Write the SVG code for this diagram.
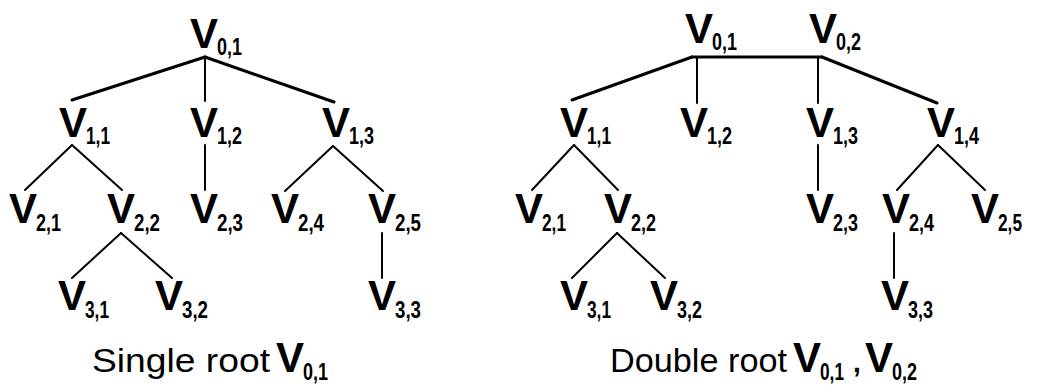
<svg xmlns="http://www.w3.org/2000/svg" width="1059" height="387" viewBox="0 0 1059 387">
<style>
.v{font-family:"Liberation Sans",Arial,sans-serif;font-weight:bold;font-size:42px;fill:#000}
.s{font-family:"Liberation Sans",Arial,sans-serif;font-weight:bold;font-size:24px;fill:#000}
.c{font-family:"Liberation Sans",Arial,sans-serif;font-size:34px;fill:#000}
.k{font-family:"Liberation Sans",Arial,sans-serif;font-weight:bold;font-size:28px;fill:#000}
.thick{stroke:#000;stroke-width:3;fill:none;stroke-linecap:round}
.thin{stroke:#000;stroke-width:2;fill:none;stroke-linecap:round}
</style>
<rect width="1059" height="387" fill="#fff"/>
<g id="connectors">
  <!-- left tree -->
  <line class="thick" x1="205" y1="57" x2="72" y2="100"/>
  <line class="thin" x1="205" y1="57" x2="205" y2="101"/>
  <line class="thick" x1="205" y1="57" x2="334" y2="102"/>
  <line class="thin" x1="72" y1="145" x2="25" y2="190"/>
  <line class="thin" x1="72" y1="145" x2="122" y2="190"/>
  <line class="thin" x1="205" y1="145" x2="205" y2="190"/>
  <line class="thin" x1="333" y1="146" x2="285" y2="191"/>
  <line class="thin" x1="333" y1="146" x2="383" y2="191"/>
  <line class="thin" x1="121" y1="233" x2="72" y2="278"/>
  <line class="thin" x1="121" y1="233" x2="172" y2="278"/>
  <line class="thin" x1="382" y1="233" x2="382" y2="278"/>
  <!-- right tree -->
  <line class="thick" x1="692" y1="57" x2="822" y2="57"/>
  <line class="thick" x1="692" y1="57" x2="572" y2="100"/>
  <line class="thin" x1="697" y1="57" x2="697" y2="103"/>
  <line class="thin" x1="818" y1="57" x2="818" y2="103"/>
  <line class="thick" x1="822" y1="57" x2="937" y2="103"/>
  <line class="thin" x1="574" y1="145" x2="532" y2="190"/>
  <line class="thin" x1="574" y1="145" x2="618" y2="190"/>
  <line class="thin" x1="818" y1="145" x2="818" y2="190"/>
  <line class="thin" x1="938" y1="145" x2="897" y2="190"/>
  <line class="thin" x1="938" y1="145" x2="985" y2="190"/>
  <line class="thin" x1="617" y1="233" x2="572" y2="278"/>
  <line class="thin" x1="617" y1="233" x2="665" y2="278"/>
  <line class="thin" x1="894" y1="233" x2="894" y2="278"/>
</g>
<!-- left tree nodes -->
<g id="L-V01"><text class="v" x="190" y="48">V</text><text class="s" x="217" y="55" textLength="25" lengthAdjust="spacingAndGlyphs">0,1</text></g>
<g id="L-V11"><text class="v" x="59" y="137">V</text><text class="s" x="86" y="144" textLength="24" lengthAdjust="spacingAndGlyphs">1,1</text></g>
<g id="L-V12"><text class="v" x="190" y="137">V</text><text class="s" x="217" y="144" textLength="25" lengthAdjust="spacingAndGlyphs">1,2</text></g>
<g id="L-V13"><text class="v" x="322" y="137">V</text><text class="s" x="349" y="144" textLength="25" lengthAdjust="spacingAndGlyphs">1,3</text></g>
<g id="L-V21"><text class="v" x="9" y="223">V</text><text class="s" x="36" y="231" textLength="25" lengthAdjust="spacingAndGlyphs">2,1</text></g>
<g id="L-V22"><text class="v" x="107" y="223">V</text><text class="s" x="134" y="231" textLength="26" lengthAdjust="spacingAndGlyphs">2,2</text></g>
<g id="L-V23"><text class="v" x="190" y="223">V</text><text class="s" x="217" y="231" textLength="26" lengthAdjust="spacingAndGlyphs">2,3</text></g>
<g id="L-V24"><text class="v" x="271" y="223">V</text><text class="s" x="298" y="231" textLength="26" lengthAdjust="spacingAndGlyphs">2,4</text></g>
<g id="L-V25"><text class="v" x="368" y="223">V</text><text class="s" x="395" y="231" textLength="26" lengthAdjust="spacingAndGlyphs">2,5</text></g>
<g id="L-V31"><text class="v" x="58" y="310">V</text><text class="s" x="85" y="318" textLength="24" lengthAdjust="spacingAndGlyphs">3,1</text></g>
<g id="L-V32"><text class="v" x="155" y="310">V</text><text class="s" x="182" y="318" textLength="26" lengthAdjust="spacingAndGlyphs">3,2</text></g>
<g id="L-V33"><text class="v" x="368" y="310">V</text><text class="s" x="395" y="318" textLength="26" lengthAdjust="spacingAndGlyphs">3,3</text></g>
<!-- right tree nodes -->
<g id="R-V01"><text class="v" x="685" y="43">V</text><text class="s" x="712" y="50" textLength="25" lengthAdjust="spacingAndGlyphs">0,1</text></g>
<g id="R-V02"><text class="v" x="809" y="43">V</text><text class="s" x="836" y="50" textLength="25" lengthAdjust="spacingAndGlyphs">0,2</text></g>
<g id="R-V11"><text class="v" x="560" y="137">V</text><text class="s" x="587" y="144" textLength="24" lengthAdjust="spacingAndGlyphs">1,1</text></g>
<g id="R-V12"><text class="v" x="680" y="137">V</text><text class="s" x="707" y="144" textLength="25" lengthAdjust="spacingAndGlyphs">1,2</text></g>
<g id="R-V13"><text class="v" x="806" y="137">V</text><text class="s" x="833" y="144" textLength="25" lengthAdjust="spacingAndGlyphs">1,3</text></g>
<g id="R-V14"><text class="v" x="927" y="137">V</text><text class="s" x="954" y="144" textLength="25" lengthAdjust="spacingAndGlyphs">1,4</text></g>
<g id="R-V21"><text class="v" x="515" y="223">V</text><text class="s" x="542" y="231" textLength="24" lengthAdjust="spacingAndGlyphs">2,1</text></g>
<g id="R-V22"><text class="v" x="604" y="223">V</text><text class="s" x="631" y="231" textLength="25" lengthAdjust="spacingAndGlyphs">2,2</text></g>
<g id="R-V23"><text class="v" x="806" y="223">V</text><text class="s" x="833" y="231" textLength="25" lengthAdjust="spacingAndGlyphs">2,3</text></g>
<g id="R-V24"><text class="v" x="882" y="223">V</text><text class="s" x="909" y="231" textLength="25" lengthAdjust="spacingAndGlyphs">2,4</text></g>
<g id="R-V25"><text class="v" x="971" y="223">V</text><text class="s" x="998" y="231" textLength="24" lengthAdjust="spacingAndGlyphs">2,5</text></g>
<g id="R-V31"><text class="v" x="560" y="310">V</text><text class="s" x="587" y="318" textLength="24" lengthAdjust="spacingAndGlyphs">3,1</text></g>
<g id="R-V32"><text class="v" x="650" y="310">V</text><text class="s" x="677" y="318" textLength="25" lengthAdjust="spacingAndGlyphs">3,2</text></g>
<g id="R-V33"><text class="v" x="881" y="310">V</text><text class="s" x="908" y="318" textLength="25" lengthAdjust="spacingAndGlyphs">3,3</text></g>
<!-- captions -->
<g id="caption-single">
  <text class="c" x="92" y="372" textLength="178" lengthAdjust="spacingAndGlyphs">Single root</text>
  <text class="v" x="276" y="372">V</text><text class="s" x="303" y="380" textLength="25" lengthAdjust="spacingAndGlyphs">0,1</text>
</g>
<g id="caption-double">
  <text class="c" x="610" y="372" textLength="177" lengthAdjust="spacingAndGlyphs">Double root</text>
  <text class="v" x="793" y="372">V</text><text class="s" x="820" y="380" textLength="24" lengthAdjust="spacingAndGlyphs">0,1</text>
  <text class="k" x="853" y="372">,</text>
  <text class="v" x="865" y="372">V</text><text class="s" x="892" y="380" textLength="25" lengthAdjust="spacingAndGlyphs">0,2</text>
</g>
</svg>
